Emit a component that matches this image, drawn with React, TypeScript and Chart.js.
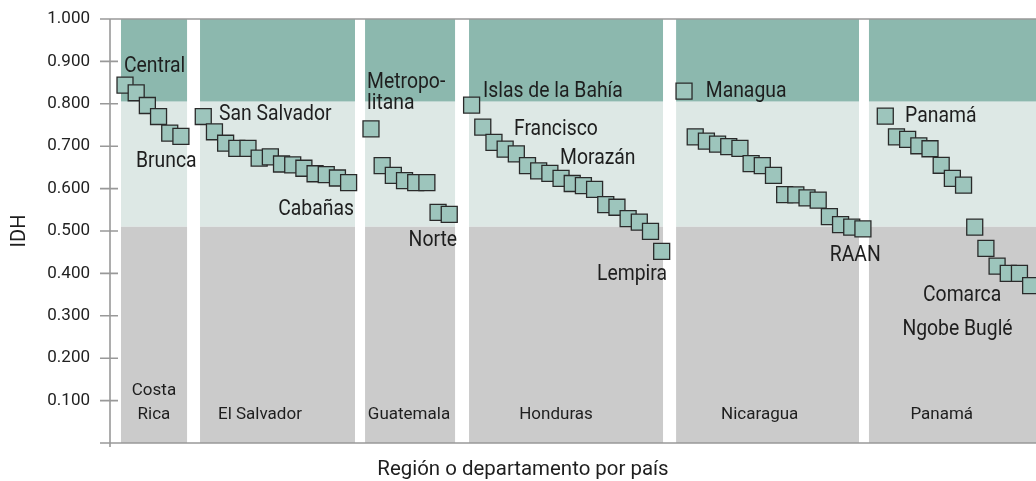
import React, { useEffect, useRef } from 'react';
import { Chart, registerables } from 'chart.js';

Chart.register(...registerables);

// ---------- data ----------
const countries = ['Costa Rica', 'El Salvador', 'Guatemala', 'Honduras', 'Nicaragua', 'Panamá'];
const countryLabelLines = [['Costa', 'Rica'], ['El Salvador'], ['Guatemala'], ['Honduras'], ['Nicaragua'], ['Panamá']];

const costaRica = [0.844, 0.826, 0.796, 0.770, 0.731, 0.723];
const elSalvador = [0.770, 0.734, 0.707, 0.695, 0.695, 0.672, 0.675, 0.658, 0.656, 0.648, 0.635, 0.633, 0.625, 0.614];
const guatemala = [0.741, 0.654, 0.631, 0.619, 0.614, 0.614, 0.544, 0.539];
const honduras = [0.797, 0.745, 0.709, 0.693, 0.682, 0.654, 0.642, 0.636, 0.624, 0.612, 0.607, 0.598, 0.562, 0.556, 0.529, 0.521, 0.499, 0.452];
const nicaragua = [0.830, 0.722, 0.712, 0.705, 0.699, 0.695, 0.659, 0.654, 0.631, 0.586, 0.585, 0.578, 0.573, 0.534, 0.515, 0.509, 0.505];
const panama = [0.771, 0.722, 0.716, 0.701, 0.694, 0.655, 0.624, 0.608, 0.509, 0.459, 0.417, 0.400, 0.400, 0.371];

const seriesByCountry = [costaRica, elSalvador, guatemala, honduras, nicaragua, panama];

const yTickValues = [0.1, 0.2, 0.3, 0.4, 0.5, 0.6, 0.7, 0.8, 0.9, 1.0];
const highBand = 0.805;
const mediumBand = 0.51;

// panel extents along the x (position) axis
const panelStart = [-0.36, 6.71, 21.47, 30.77, 49.29, 66.54];
const panelEnd = [5.55, 20.57, 29.52, 48.12, 65.65, 83];
const countryLabelX = [2.59, 12.07, 25.4, 38.55, 56.77, 73.05];

// annotation labels: text lines, x anchor, baseline value, alignment
const annotationTexts = [['Central'], ['Brunca'], ['San Salvador'], ['Cabañas'], ['Metropo-', 'litana'], ['Norte'], ['Islas de la Bahía'], ['Francisco'], ['Morazán'], ['Lempira'], ['Managua'], ['RAAN'], ['Panamá'], ['Comarca'], ['Ngobe Buglé']];
const annotationX = [-0.09, 0.98, 8.41, 20.48, 21.65, 29.7, 32.02, 34.79, 38.91, 48.48, 51.94, 67.59, 69.77, 74.87, 74.46];
const annotationY = [0.876, 0.652, 0.762, 0.538, 0.837, 0.465, 0.817, 0.727, 0.658, 0.385, 0.817, 0.430, 0.756, 0.336, 0.255];
const annotationAlign = ['left', 'left', 'left', 'right', 'left', 'right', 'left', 'left', 'left', 'right', 'left', 'right', 'left', 'center', 'center'];

const xAxisTitle = 'Región o departamento por país';
const yAxisTitle = 'IDH';

// ---------- helpers ----------
const FONT = 'Roboto, "Open Sans", sans-serif';
const TEXT = '#1e1e1e';

function startIndices(): number[] {
  const out: number[] = [];
  let s = 0;
  seriesByCountry.forEach((arr) => {
    out.push(s);
    s += arr.length + 1;
  });
  return out;
}

function drawScaledText(ctx: CanvasRenderingContext2D, text: string, x: number, y: number, align: CanvasTextAlign, sx: number) {
  ctx.save();
  ctx.translate(x, y);
  ctx.scale(sx, 1);
  ctx.textAlign = align;
  ctx.fillText(text, 0, 0);
  ctx.restore();
}

const decorPlugin = {
  id: 'decor',
  beforeDatasetsDraw(chart: any) {
    const { ctx, chartArea: a, scales } = chart;
    const x = scales.x;
    const y = scales.y;
    ctx.save();
    const yHigh = y.getPixelForValue(highBand);
    const yMed = y.getPixelForValue(mediumBand);
    panelStart.forEach((s, i) => {
      const l = Math.max(x.getPixelForValue(s), a.left);
      const r = Math.min(x.getPixelForValue(panelEnd[i]), a.right);
      ctx.fillStyle = '#8cb8ae';
      ctx.fillRect(l, a.top, r - l, yHigh - a.top);
      ctx.fillStyle = '#dde8e5';
      ctx.fillRect(l, yHigh, r - l, yMed - yHigh);
      ctx.fillStyle = '#cbcbcb';
      ctx.fillRect(l, yMed, r - l, a.bottom - yMed);
    });

    // country labels
    ctx.fillStyle = TEXT;
    ctx.font = `17px ${FONT}`;
    ctx.textBaseline = 'alphabetic';
    countryLabelLines.forEach((lines, i) => {
      const cx = x.getPixelForValue(countryLabelX[i]);
      const base = a.bottom - 24;
      lines.forEach((ln, k) => {
        const yy = base - (lines.length - 1 - k) * 24.3;
        drawScaledText(ctx, ln, cx, yy, 'center', 1);
      });
    });

    // axes
    ctx.strokeStyle = '#999999';
    ctx.lineWidth = 1.6;
    ctx.beginPath();
    ctx.moveTo(a.left, a.top);
    ctx.lineTo(a.left, a.bottom + 4);
    ctx.moveTo(a.left - 10, a.top);
    ctx.lineTo(a.right, a.top);
    ctx.moveTo(a.left - 10, a.bottom);
    ctx.lineTo(a.right, a.bottom);
    yTickValues.forEach((v) => {
      if (v >= 1) return;
      const py = y.getPixelForValue(v);
      ctx.moveTo(a.left - 10, py);
      ctx.lineTo(a.left + 8, py);
    });
    ctx.stroke();
    ctx.restore();
  },
  afterDatasetsDraw(chart: any) {
    const { ctx, chartArea: a, scales } = chart;
    const x = scales.x;
    const y = scales.y;
    ctx.save();
    ctx.fillStyle = TEXT;
    ctx.textBaseline = 'alphabetic';
    ctx.font = `22px ${FONT}`;
    annotationTexts.forEach((lines, i) => {
      const px = x.getPixelForValue(annotationX[i]);
      const py = y.getPixelForValue(annotationY[i]);
      lines.forEach((ln, k) => {
        drawScaledText(ctx, ln, px, py + k * 21, annotationAlign[i] as CanvasTextAlign, 0.88);
      });
    });

    // axis titles
    ctx.font = `21px ${FONT}`;
    drawScaledText(ctx, xAxisTitle, (a.left + a.right) / 2 - 50, 475, 'center', 0.973);

    ctx.save();
    ctx.translate(20, (a.top + a.bottom) / 2);
    ctx.rotate(-Math.PI / 2);
    ctx.font = `20px ${FONT}`;
    ctx.textAlign = 'center';
    ctx.textBaseline = 'middle';
    ctx.fillText(yAxisTitle, 0, 0);
    ctx.restore();

    ctx.restore();
  },
};

export default function App() {
  const canvasRef = useRef<HTMLCanvasElement | null>(null);

  useEffect(() => {
    if (!canvasRef.current) return;
    const starts = startIndices();
    const datasets = seriesByCountry.map((vals, ci) => ({
      label: countries[ci],
      data: vals.map((v, k) => ({ x: starts[ci] + k, y: v })),
      pointStyle: 'rect' as const,
      pointRadius: 11.3,
      pointHoverRadius: 11.3,
      backgroundColor: '#9dc5bc',
      borderColor: '#2a2a2a',
      pointBorderWidth: 1.3,
      borderWidth: 1.3,
      showLine: false,
    }));

    const chart = new Chart(canvasRef.current, {
      type: 'scatter',
      data: { datasets },
      options: {
        animation: false,
        responsive: false,
        devicePixelRatio: 1,
        layout: { autoPadding: false, padding: { top: 19, bottom: 38, left: 0, right: 0 } },
        plugins: {
          legend: { display: false },
          tooltip: { enabled: false },
        },
        scales: {
          x: {
            type: 'linear',
            display: false,
            min: -1.342,
            max: 81.48,
          },
          y: {
            type: 'linear',
            min: 0,
            max: 1,
            afterFit: (scale: any) => {
              scale.width = 110;
            },
            grid: { display: false, drawTicks: true, tickLength: 20 },
            border: { display: false },
            ticks: {
              stepSize: 0.1,
              padding: 0,
              color: '#222222',
              font: { family: FONT, size: 17 },
              callback: (v: any) => (Number(v) === 0 ? '' : Number(v).toFixed(3)),
            },
          },
        },
      },
      plugins: [decorPlugin],
    });
    return () => chart.destroy();
  }, []);

  return (
    <div style={{ position: 'absolute', left: 0, top: 0, width: 1036, height: 481, background: '#ffffff' }}>
      <canvas ref={canvasRef} width={1036} height={481} />
    </div>
  );
}
